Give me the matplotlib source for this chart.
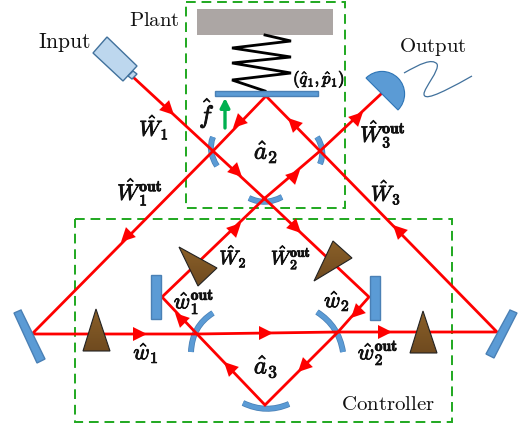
import numpy as np
import matplotlib
matplotlib.use("Agg")
import matplotlib.pyplot as plt
import matplotlib.patheffects as pe
from matplotlib.patches import Polygon, Rectangle, PathPatch, Wedge
from matplotlib.path import Path

plt.rcParams['mathtext.fontset'] = 'cm'

RED = '#fe0000'; BLUE = '#5b9bd5'; EDGE = '#4a80b5'; GREEN = '#1fa81f'

# dashed boxes: x0, y0, x1, y1
plant_box = (186, 2, 345, 208)
controller_box = (75, 219, 452, 422)

# beams
beams = [
    [(133, 77), (213, 151), (265, 199), (369, 297), (338, 332), (265, 405), (197, 334), (162, 297), (265, 198), (320, 151), (381, 94)],
    [(213, 151), (266, 96), (320, 151), (497, 332), (338, 332), (197, 334), (32, 334), (213, 151)],
]
# arrow tips with their direction (dx, dy)
arrow_tips = [(174, 115), (233, 128), (242, 177), (288, 118), (300, 170), (363, 112), (121, 242),
              (241, 223), (147, 334), (175, 313), (224, 362), (301, 233), (393, 225), (351, 318),
              (392, 332), (298, 372), (273, 333)]
arrow_dirs = [(1, 1), (-1, 1), (1, 1), (-1, -1), (1, -1), (1, -1), (-1, 1),
              (1, -1), (1, 0), (-1, -1), (-1, -1), (1, 1), (-1, -1), (-1, 1),
              (1, 0), (-1, 1), (1, 0)]
# curved mirrors: start, control, end
curved = [
    [(213, 137), (207, 151), (217, 166)],
    [(317, 137), (326, 150), (320, 164)],
    [(249, 198), (265, 206), (282, 197)],
    [(213, 313), (192, 326), (191, 352)],
    [(317, 312), (339, 326), (343, 352)],
    [(243, 403), (266, 414), (289, 404)],
]
flat_mirrors = [
    [(14, 313), (21, 310), (45, 359), (37, 363)],
    [(510, 310), (517, 313), (494, 358), (486, 354)],
    [(151, 275), (161, 275), (161, 319), (151, 319)],
    [(370, 276), (380, 276), (380, 320), (370, 320)],
    [(215, 91), (318, 91), (318, 96), (215, 96)],
]
prisms = [
    [(96, 309), (83, 351), (110, 351)],
    [(423, 311), (410, 353), (437, 353)],
    [(179, 247), (217, 268), (198, 286)],
    [(333, 241), (352, 258), (314, 281)],
]
spring = [(265, 35), (291, 41), (232, 48), (291, 57), (232, 63), (291, 73), (232, 80), (265, 91)]
camera_body = [(107, 37), (137, 66), (123, 81), (93, 53)]
camera_nose = [(133, 71), (137, 74), (132, 79), (128, 76)]
wire = [(404, 73), (420, 64), (432, 58), (437, 64), (440, 70), (424, 88), (424, 94), (424, 100), (435, 97), (472, 76)]
labels = [
    (154, 20, r'$\mathrm{Plant}$', 15), (64, 42, r'$\mathrm{Input}$', 15.5),
    (433, 47, r'$\mathrm{Output}$', 15), (388, 404, r'$\mathrm{Controller}$', 15),
    (154, 127, r'$\hat{W}_{\mathbf{1}}$', 15.5), (140, 192, r'$\hat{W}_{\mathbf{1}}^{\mathbf{out}}$', 16),
    (207, 113, r'$\hat{f}$', 18), (266, 152, r'$\hat{a}_{\mathbf{2}}$', 18),
    (319, 79, r'$(\hat{q}_{\mathbf{1}},\hat{p}_{\mathbf{1}})$', 12),
    (383, 134, r'$\hat{W}_{\mathbf{3}}^{\mathbf{out}}$', 16), (386, 192, r'$\hat{W}_{\mathbf{3}}$', 15.5),
    (233, 256, r'$\hat{W}_{\mathbf{2}}$', 14), (291, 257, r'$\hat{W}_{\mathbf{2}}^{\mathbf{out}}$', 14),
    (194, 302, r'$\hat{w}_{\mathbf{1}}^{\mathbf{out}}$', 16), (146, 353, r'$\hat{w}_{\mathbf{1}}$', 16),
    (337, 301, r'$\hat{w}_{\mathbf{2}}$', 16), (378, 353, r'$\hat{w}_{\mathbf{2}}^{\mathbf{out}}$', 16),
    (266, 367, r'$\hat{a}_{\mathbf{3}}$', 18),
]

fig = plt.figure(figsize=(5.3, 4.3), dpi=100)
ax = fig.add_axes([0, 0, 1, 1])
ax.set_xlim(0, 530); ax.set_ylim(430, 0); ax.axis('off')

for x0, y0, x1, y1 in (plant_box, controller_box):
    ax.add_patch(Rectangle((x0, y0), x1 - x0, y1 - y0, fill=False, ec=GREEN, lw=1.4,
                           ls=(0, (5, 3)), zorder=1))
ax.add_patch(Rectangle((197, 9), 136, 26, fc='#aca6a4', ec='none', zorder=2))
ax.plot(*zip(*spring), color='black', lw=2, zorder=2, solid_joinstyle='miter')

for c in curved:
    for col, w in ((EDGE, 6), (BLUE, 4.5)):
        ax.add_patch(PathPatch(Path(c, [Path.MOVETO, Path.CURVE3, Path.CURVE3]), fill=False,
                               ec=col, lw=w * 0.72, capstyle='butt', zorder=3))
for b in beams:
    ax.plot(*zip(*b), color=RED, lw=2, zorder=4, solid_joinstyle='miter')
for (x, y), (dx, dy) in zip(arrow_tips, arrow_dirs):
    n = np.hypot(dx, dy); ux, uy = dx / n, dy / n
    L, W = 14, 7
    ax.add_patch(Polygon([(x, y), (x - L * ux - W * uy, y - L * uy + W * ux),
                          (x - L * ux + W * uy, y - L * uy - W * ux)], fc=RED, ec='none', zorder=5))
for m in flat_mirrors:
    ax.add_patch(Polygon(m, fc=BLUE, ec=EDGE, lw=1, zorder=6))

grad = np.linspace(0, 1, 64)[:, None]
cmap = matplotlib.colors.LinearSegmentedColormap.from_list('brown', ['#8a6029', '#6f4a1f'])
for p in prisms:
    xs, ys = zip(*p)
    poly = Polygon(p, fc='none', ec='#222222', lw=0.8, zorder=8)
    ax.add_patch(poly)
    im = ax.imshow(grad, cmap=cmap, extent=(min(xs), max(xs), max(ys), min(ys)), aspect='auto', zorder=7)
    im.set_clip_path(poly)
ax.set_xlim(0, 530); ax.set_ylim(430, 0)

ax.add_patch(Polygon(camera_body, fc='#bdd7ee', ec='#41719c', lw=1, zorder=6))
ax.add_patch(Polygon(camera_nose, fc='#bdd7ee', ec='#41719c', lw=1, zorder=6))
ax.add_patch(Wedge((382, 94), 22.6, 225, 405, fc=BLUE, ec='#2e75b6', lw=0.8, zorder=6))
ax.add_patch(PathPatch(Path(wire, [Path.MOVETO] + [Path.CURVE4] * 9), fill=False, ec='#41719c', lw=0.9, zorder=6))
ax.annotate('', xy=(225, 98), xytext=(225, 128), zorder=6,
            arrowprops=dict(arrowstyle='-|>,head_width=0.28,head_length=0.55', color='#00b050', lw=2.4,
                            shrinkA=0, shrinkB=0))
for x, y, s, fs in labels:
    t = ax.text(x, y, s, fontsize=fs, ha='center', va='center', color='#111111', zorder=9)
    if r'\hat' in s:
        t.set_path_effects([pe.withStroke(linewidth=0.6, foreground='#111111')])
fig.savefig('out.png', dpi=100)
